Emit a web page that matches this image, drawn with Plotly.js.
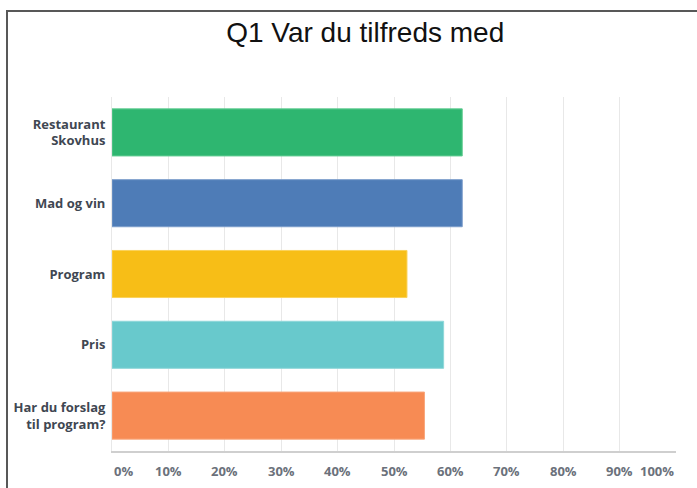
<!DOCTYPE html>
<html>
<head>
<meta charset="utf-8">
<script src="https://cdn.plot.ly/plotly-3.0.1.min.js"></script>
<style>
  html, body { margin: 0; padding: 0; background: #fff; }
  #wrap { position: relative; width: 697px; height: 488px; overflow: hidden; }
  #chart { position: absolute; left: 0; top: 0; width: 697px; height: 488px; }
  #frame { position: absolute; left: 6px; top: 10px; width: 700px; height: 500px;
           border-top: 2px solid #585858; border-left: 2px solid #585858; pointer-events: none; }
</style>
</head>
<body>
<div id="wrap"><div id="chart"></div><div id="frame"></div></div>
<script>
const categories = ["Restaurant<br>Skovhus", "Mad og vin", "Program", "Pris", "Har du forslag<br>til program?"];
const values = [62.1, 62.1, 52.3, 58.8, 55.4];
const barColors = ["#2eb670", "#4e7cb7", "#f7be17", "#68c9cc", "#f78b54"];
const barEdges = ["#62cc92", "#7c9dcb", "#fad25a", "#8fd7d9", "#f9a77d"];
const tickVals = [0, 10, 20, 30, 40, 50, 60, 70, 80, 90, 100];
const tickText = ["0%", "10%", "20%", "30%", "40%", "50%", "60%", "70%", "80%", "90%", "100%"];

const tickAnnotations = tickVals.map((v, i) => ({
  x: v, xref: "x", y: 0, yref: "paper",
  text: tickText[i], showarrow: false,
  xanchor: i === 0 ? "left" : (i === tickVals.length - 1 ? "right" : "center"),
  yanchor: "middle", yshift: -20,
  font: { family: "Open Sans", size: 13, color: "#6b717b", weight: "bold" }
}));

const trace = {
  type: "bar", orientation: "h",
  y: categories, x: values,
  marker: { color: barColors, line: { color: barEdges, width: 1 } },
  hoverinfo: "none"
};

const layout = {
  width: 697, height: 488,
  margin: { l: 112, r: 21, t: 97, b: 37 },
  paper_bgcolor: "#fff", plot_bgcolor: "#fff",
  showlegend: false,
  bargap: 0.335,
  title: {
    text: "Q1 Var du tilfreds med",
    xref: "container", x: 0.524, xanchor: "center",
    yref: "container", y: 1 - 32 / 488, yanchor: "middle",
    font: { family: "Liberation Sans", size: 28, color: "#111" }
  },
  xaxis: {
    range: [0, 100], tickvals: tickVals, showticklabels: false,
    showgrid: true, gridcolor: "#e8e8e8", gridwidth: 1,
    zeroline: false, showline: true, linecolor: "#cfcfcf", linewidth: 1.5,
    fixedrange: true
  },
  yaxis: {
    autorange: "reversed", showgrid: false, zeroline: false,
    showline: true, linecolor: "#e8e8e8", linewidth: 1,
    ticks: "", ticklabelstandoff: 3,
    tickfont: { family: "Open Sans", size: 13, color: "#3f4752", weight: "bold" },
    fixedrange: true
  },
  annotations: tickAnnotations
};

Plotly.newPlot("chart", [trace], layout, { displayModeBar: false, staticPlot: true });
</script>
</body>
</html>
